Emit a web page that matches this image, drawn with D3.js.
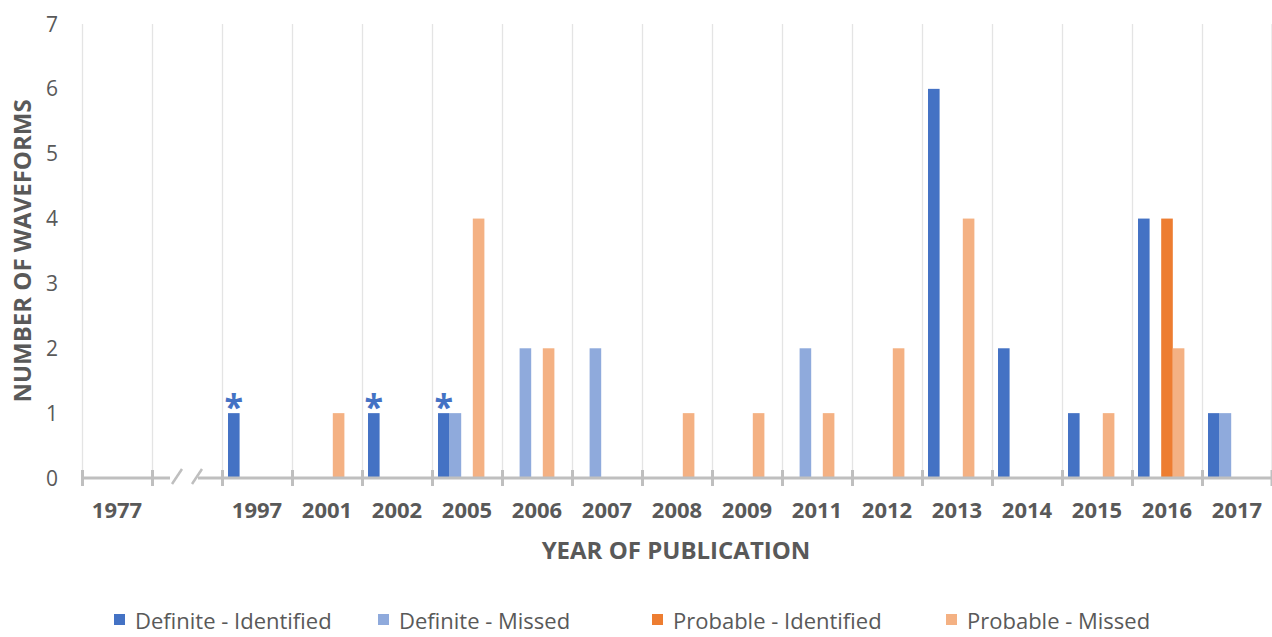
<!DOCTYPE html>
<html lang="en">
<head>
    <meta charset="UTF-8">
    <title>Waveforms by Year</title>
    <script src="https://d3js.org/d3.v7.min.js"></script>
    <style>
        body { margin: 0; background: #fff; }
        text { font-family: "Open Sans", sans-serif; fill: #595959; }
    </style>
</head>
<body>
    <div id="chart"></div>
    <script>
        // Categories ("gap" is the empty slot where the axis is broken)
        var years = ["1977", "gap", "1997", "2001", "2002", "2005", "2006", "2007", "2008",
                     "2009", "2011", "2012", "2013", "2014", "2015", "2016", "2017"];
        var seriesNames = ["Definite - Identified", "Definite - Missed", "Probable - Identified", "Probable - Missed"];
        var seriesColors = ["#4472c4", "#8faadc", "#ed7d31", "#f4b183"];

        var definiteIdentified = [0, 0, 1, 0, 1, 1, 0, 0, 0, 0, 0, 0, 6, 2, 1, 4, 1];
        var definiteMissed     = [0, 0, 0, 0, 0, 1, 2, 2, 0, 0, 2, 0, 0, 0, 0, 0, 1];
        var probableIdentified = [0, 0, 0, 0, 0, 0, 0, 0, 0, 0, 0, 0, 0, 0, 0, 4, 0];
        var probableMissed     = [0, 0, 0, 1, 0, 4, 2, 0, 1, 1, 1, 2, 4, 0, 1, 2, 0];
        var starredYears = ["1997", "2002", "2005"];
        var yTicks = [0, 1, 2, 3, 4, 5, 6, 7];

        var allSeries = [definiteIdentified, definiteMissed, probableIdentified, probableMissed];

        var width = 1272, height = 637;
        var margin = {top: 24, right: 0, bottom: 159, left: 82};
        var innerW = width - margin.left - margin.right;
        var innerH = height - margin.top - margin.bottom;

        var svg = d3.select("#chart").append("svg")
            .attr("width", width)
            .attr("height", height);

        var g = svg.append("g")
            .attr("transform", "translate(" + margin.left + "," + margin.top + ")");

        var x = d3.scaleBand().domain(years).range([0, innerW]);
        var y = d3.scaleLinear().domain([0, 7]).range([innerH, 0]);

        var barW = 11.6;
        var barOffset = 6;

        // vertical gridlines at category boundaries
        var bounds = years.map(function(d) { return x(d); }).concat([innerW - 0.5]);
        g.selectAll(".grid").data(bounds).enter().append("line")
            .attr("x1", function(d) { return d + 0.5; })
            .attr("x2", function(d) { return d + 0.5; })
            .attr("y1", 0).attr("y2", innerH)
            .attr("stroke", "#e4e4e4").attr("stroke-width", 1.3);

        // bars
        var barData = [];
        allSeries.forEach(function(vals, s) {
            vals.forEach(function(v, i) {
                if (v > 0) barData.push({year: years[i], s: s, v: v});
            });
        });
        g.selectAll(".bar").data(barData).enter().append("rect")
            .attr("x", function(d) { return x(d.year) + barOffset + d.s * barW; })
            .attr("width", barW)
            .attr("y", function(d) { return y(d.v); })
            .attr("height", function(d) { return innerH - y(d.v); })
            .attr("fill", function(d) { return seriesColors[d.s]; });

        // asterisks over the starred bars
        g.selectAll(".star").data(starredYears).enter().append("text")
            .attr("x", function(d) { return x(d) + barOffset + barW / 2; })
            .attr("y", function(d) { return y(definiteIdentified[years.indexOf(d)]) + 6; })
            .attr("text-anchor", "middle")
            .style("fill", "#4472c4")
            .style("font-size", "34px")
            .style("font-weight", "bold")
            .text("*");

        // x axis line with a break
        var axisColor = "#bfbfbf";
        var gapX = x("gap");
        var segs = [[0, gapX + 18], [gapX + 46, innerW]];
        g.selectAll(".axisSeg").data(segs).enter().append("line")
            .attr("x1", function(d) { return d[0]; })
            .attr("x2", function(d) { return d[1]; })
            .attr("y1", innerH).attr("y2", innerH)
            .attr("stroke", axisColor).attr("stroke-width", 3);
        g.selectAll(".slash").data([gapX + 20, gapX + 40]).enter().append("line")
            .attr("x1", function(d) { return d; })
            .attr("x2", function(d) { return d + 10; })
            .attr("y1", innerH + 6).attr("y2", innerH - 9)
            .attr("stroke", axisColor).attr("stroke-width", 2.5);
        g.selectAll(".tick").data(bounds).enter().append("line")
            .attr("x1", function(d) { return d + 0.5; })
            .attr("x2", function(d) { return d + 0.5; })
            .attr("y1", innerH - 8).attr("y2", innerH + 8)
            .attr("stroke", axisColor).attr("stroke-width", 3);

        // x labels
        g.selectAll(".xlab").data(years.filter(function(d) { return d !== "gap"; })).enter().append("text")
            .attr("x", function(d) { return x(d) + x.bandwidth() / 2; })
            .attr("y", innerH + 40)
            .attr("text-anchor", "middle")
            .style("font-size", "22px")
            .style("font-weight", "bold")
            .text(function(d) { return d; });

        // y labels
        g.selectAll(".ylab").data(yTicks).enter().append("text")
            .attr("x", -30)
            .attr("y", function(d) { return y(d) + 7.5; })
            .attr("text-anchor", "middle")
            .style("font-size", "21px")
            .text(function(d) { return d; });

        // axis titles
        svg.append("text")
            .attr("transform", "translate(31," + (margin.top + innerH / 2 + 0) + ") rotate(-90)")
            .attr("text-anchor", "middle")
            .style("font-size", "24px")
            .style("font-weight", "bold")
            .text("NUMBER OF WAVEFORMS");

        svg.append("text")
            .attr("x", 676)
            .attr("y", 559)
            .attr("text-anchor", "middle")
            .style("font-size", "24px")
            .style("font-weight", "bold")
            .text("YEAR OF PUBLICATION");

        // legend
        var legendX = [114, 378, 652, 946];
        var legend = svg.selectAll(".legend").data(seriesNames).enter().append("g")
            .attr("transform", function(d, i) { return "translate(" + legendX[i] + ",614)"; });
        legend.append("rect")
            .attr("width", 11).attr("height", 11)
            .attr("fill", function(d, i) { return seriesColors[i]; });
        legend.append("text")
            .attr("x", 21).attr("y", 15)
            .style("font-size", "22px")
            .text(function(d) { return d; });
    </script>
</body>
</html>
